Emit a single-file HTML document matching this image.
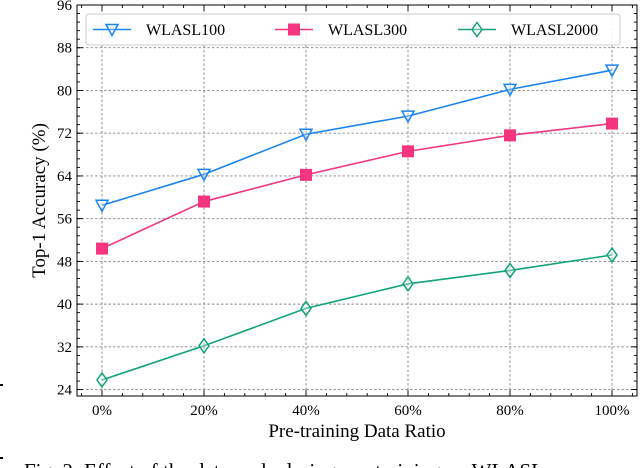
<!DOCTYPE html>
<html><head><meta charset="utf-8">
<style>
html,body{margin:0;padding:0;background:#fff;}
body{width:640px;height:468px;overflow:hidden;position:relative;font-family:"Liberation Serif",serif;}
svg{position:absolute;left:0;top:0;}
</style></head>
<body>
<svg id="chart" width="640" height="468" font-family="Liberation Serif, serif"></svg>
<script>
const categories = ["0%","20%","40%","60%","80%","100%"];
const xValues = [0,20,40,60,80,100];
const wlasl100 = [58.5,64.3,71.8,75.2,80.2,83.8];
const wlasl300 = [50.4,59.2,64.2,68.6,71.6,73.8];
const wlasl2000 = [25.8,32.2,39.2,43.8,46.3,49.2];
const yTicks = [24,32,40,48,56,64,72,80,88,96];

const NS="http://www.w3.org/2000/svg";
const svg=document.getElementById('chart');
const L=77,R=637,T=5,B=396;
const xMin=-4.9,xMax=104.9,yMin=22.8,yMax=96;
function xs(v){return L+(v-xMin)/(xMax-xMin)*(R-L);}
function ys(v){return B-(v-yMin)/(yMax-yMin)*(B-T);}
function mk(tag,attrs,parent){const e=document.createElementNS(NS,tag);for(const k in attrs)e.setAttribute(k,attrs[k]);(parent||svg).appendChild(e);return e;}

const grid=mk('g',{});


xValues.forEach(v=>mk('line',{x1:xs(v),x2:xs(v),y1:T,y2:B,stroke:'#888','stroke-width':0.9,'stroke-dasharray':'2.5,2'},grid));
yTicks.forEach(v=>mk('line',{x1:L,x2:R,y1:ys(v),y2:ys(v),stroke:'#888','stroke-width':0.9,'stroke-dasharray':'2.5,2'},grid));

const ticks=mk('g',{stroke:'#000','stroke-width':0.9});


for(let v=0;v<=100;v+=20){const x=xs(v);mk('line',{x1:x,x2:x,y1:B,y2:B-6},ticks);mk('line',{x1:x,x2:x,y1:T,y2:T+6},ticks);}
for(let v=-4;v<=104;v+=4){if(v%20===0)continue;const x=xs(v);mk('line',{x1:x,x2:x,y1:B,y2:B-3},ticks);mk('line',{x1:x,x2:x,y1:T,y2:T+3},ticks);}
yTicks.forEach(v=>{const y=ys(v);mk('line',{x1:L,x2:L+6,y1:y,y2:y},ticks);mk('line',{x1:R,x2:R-6,y1:y,y2:y},ticks);});
for(let v=24;v<=96;v+=1.6){const y=ys(v);mk('line',{x1:L,x2:L+3,y1:y,y2:y},ticks);mk('line',{x1:R,x2:R-3,y1:y,y2:y},ticks);}

const frame=mk('rect',{x:L,y:T,width:R-L,height:B-T,fill:'none',stroke:'#000','stroke-width':1});



categories.forEach((c,i)=>{const t=mk('text',{x:xs(xValues[i]),y:B+19,'text-anchor':'middle','font-size':15});t.textContent=c;

});
yTicks.forEach(v=>{const t=mk('text',{x:L-5,y:ys(v)+5,'text-anchor':'end','font-size':15});t.textContent=v;

});

const xt=mk('text',{x:(L+R)/2,y:437,'text-anchor':'middle','font-size':19});xt.textContent='Pre-training Data Ratio';


const yt=mk('text',{x:0,y:0,'text-anchor':'middle','font-size':19,transform:'translate(45,'+((T+B)/2)+') rotate(-90)'});yt.textContent='Top-1 Accuracy (%)';



function marker(type,x,y,color,parent){
  if(type==='tri') return mk('path',{d:`M${x-6},${y-5} L${x+6},${y-5} L${x},${y+6} Z`,fill:'#fff','fill-opacity':0.3,stroke:color,'stroke-width':1.5},parent);
  if(type==='sq') return mk('rect',{x:x-5.5,y:y-5.5,width:11,height:11,fill:color,stroke:color,'stroke-width':1},parent);
  return mk('path',{d:`M${x},${y-7} L${x+5},${y} L${x},${y+7} L${x-5},${y} Z`,fill:'#fff','fill-opacity':0.3,stroke:color,'stroke-width':1.5},parent);
}
const series=[{name:'wlasl100',data:wlasl100,color:'#1a84f0',m:'tri'},{name:'wlasl300',data:wlasl300,color:'#f5357f',m:'sq'},{name:'wlasl2000',data:wlasl2000,color:'#12a37a',m:'dia'}];
series.forEach(s=>{
  const g=mk('g',{});
  
  
  const pts=s.data.map((v,i)=>xs(xValues[i])+','+ys(v)).join(' ');
  const pl=mk('polyline',{points:pts,fill:'none',stroke:s.color,'stroke-width':1.6},g);
  
  
  s.data.forEach((v,i)=>{const m=marker(s.m,xs(xValues[i]),ys(v),s.color,g);
    
    });
});

const lg=mk('g',{});


mk('rect',{x:86,y:14,width:534,height:31,rx:3,fill:'#fff','fill-opacity':0.85,stroke:'#ccc','stroke-width':1},lg);
const labels=['WLASL100','WLASL300','WLASL2000'];
const lx=[93,275,458];
series.forEach((s,i)=>{
  const e=mk('g',{},lg);
  
  
  mk('line',{x1:lx[i],x2:lx[i]+38,y1:29.5,y2:29.5,stroke:s.color,'stroke-width':1.6},e);
  marker(s.m,lx[i]+19,29.5,s.color,e);
  const t=mk('text',{x:lx[i]+53,y:35,'font-size':16},e);t.textContent=labels[i];
});

const d1=mk('rect',{x:0,y:384,width:3,height:2,fill:'#000'});


const d2=mk('rect',{x:0,y:457,width:3,height:2,fill:'#000'});



const cap=mk('text',{x:24,y:478,'font-size':21});cap.textContent='Fig. 2: Effect of the data scale during pre-training on WLASL';


</script>
</body></html>
